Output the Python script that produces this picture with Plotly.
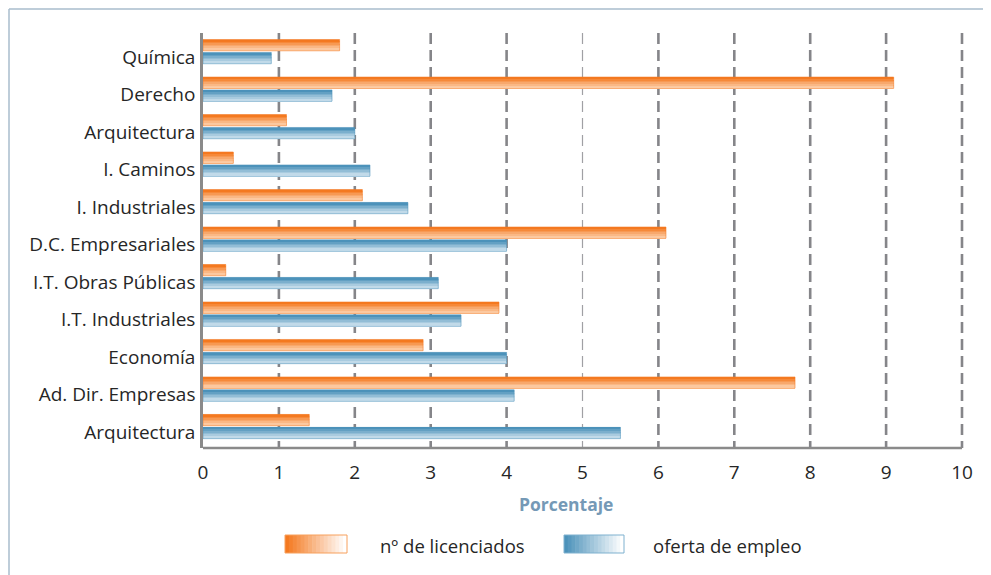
import plotly.graph_objects as go

categories = [
    "Química", "Derecho", "Arquitectura", "I. Caminos", "I. Industriales",
    "D.C. Empresariales", "I.T. Obras Públicas", "I.T. Industriales",
    "Economía", "Ad. Dir. Empresas", "Arquitectura",
]
licenciados = [1.8, 9.1, 1.1, 0.4, 2.1, 6.1, 0.3, 3.9, 2.9, 7.8, 1.4]
oferta = [0.9, 1.7, 2.0, 2.2, 2.7, 4.0, 3.1, 3.4, 4.0, 4.1, 5.5]
x_ticks = [0, 1, 2, 3, 4, 5, 6, 7, 8, 9, 10]

# the page body adds an 8px margin, so the figure is drawn that much smaller
OFF = 8
PAD = 3  # a little room right of the "10" gridline so it is not clipped
W, H = 991 - OFF, 575 - OFF
L, T = 203 - OFF, 33 - OFF
R, B = W - (962 - OFF) - PAD, H - (448 - OFF)
PW, PH = W - L - R, H - T - B
X_MAX = 10 + PAD * 10 / (962 - 203)


def px_x(px):
    # page pixel -> paper x
    return (px - OFF - L) / PW


def px_y(py):
    # page pixel -> paper y
    return (H - B - (py - OFF)) / PH


def mix(c1, c2, t):
    return "rgb({},{},{})".format(*[round(a + (b - a) * t) for a, b in zip(c1, c2)])


ORANGE_DARK, ORANGE_LIGHT = (244, 121, 32), (253, 216, 184)
BLUE_DARK, BLUE_LIGHT = (76, 146, 186), (216, 232, 242)
N_STRIPS = 7
FONT = "Open Sans, Noto Sans, sans-serif"
TEXT = "#262626"

# top category at the top of the chart
y_pos = list(range(len(categories) - 1, -1, -1))

fig = go.Figure()


def add_gradient_bars(values, dark, light, base, thick, edge):
    step = thick / N_STRIPS
    for i in range(N_STRIPS):
        fig.add_trace(go.Bar(
            x=values, y=y_pos, orientation="h",
            offset=base + i * step, width=step * 1.05,
            marker={"color": mix(light, dark, i / (N_STRIPS - 1)), "line": {"width": 0}},
            showlegend=False, hoverinfo="skip",
        ))
    fig.add_trace(go.Bar(
        x=values, y=y_pos, orientation="h", offset=base, width=thick,
        marker={"color": "rgba(0,0,0,0)", "line": {"width": 1, "color": edge}},
        showlegend=False, hoverinfo="skip",
    ))


add_gradient_bars(oferta, BLUE_DARK, BLUE_LIGHT, -0.18, 0.30, "rgba(76,146,186,0.55)")
add_gradient_bars(licenciados, ORANGE_DARK, ORANGE_LIGHT, 0.165, 0.30, "rgba(244,121,32,0.55)")

shapes = []
for v in x_ticks[1:]:
    shapes.append({
        "type": "line", "xref": "x", "yref": "paper", "x0": v, "x1": v, "y0": 1, "y1": 0,
        "layer": "below",
        "line": {"color": "#a0a0a4" if v == 5 else "#858589", "width": 1.2 if v == 5 else 2.6,
                 "dash": "11px,6px"},
    })

# outer frame (top and left edges are the only visible parts)
shapes.append({"type": "line", "xref": "paper", "yref": "paper",
               "x0": px_x(OFF + 1), "x1": px_x(1000), "y0": px_y(OFF + 1), "y1": px_y(OFF + 1),
               "line": {"color": "#a9bdcc", "width": 1.5}})
shapes.append({"type": "line", "xref": "paper", "yref": "paper",
               "x0": px_x(OFF + 1), "x1": px_x(OFF + 1), "y0": px_y(OFF + 1), "y1": px_y(600),
               "line": {"color": "#a9bdcc", "width": 1.5}})

# legend swatches (horizontal gradient)
legend_items = [
    ("nº de licenciados", ORANGE_DARK, "#f7a05c", 285, 347, 378),
    ("oferta de empleo", BLUE_DARK, "#7fb1cf", 564, 624, 651),
]
annotations = []
for label, dark, edge, x0, x1, tx in legend_items:
    n = 16
    sw = (x1 - x0) / n
    for i in range(n):
        shapes.append({"type": "rect", "xref": "paper", "yref": "paper",
                       "x0": px_x(x0 + i * sw), "x1": px_x(x0 + (i + 1) * sw + 0.6),
                       "y0": px_y(535), "y1": px_y(553),
                       "fillcolor": mix(dark, (255, 255, 255), i / (n - 1)),
                       "line": {"width": 0}})
    shapes.append({"type": "rect", "xref": "paper", "yref": "paper",
                   "x0": px_x(x0), "x1": px_x(x1), "y0": px_y(535), "y1": px_y(553),
                   "line": {"color": edge, "width": 1}})
    annotations.append({"text": label, "xref": "paper", "yref": "paper",
                        "x": px_x(tx), "y": px_y(545), "xanchor": "left", "yanchor": "middle",
                        "showarrow": False, "font": {"size": 18.5, "color": TEXT}})

# axis title, sitting left of the plot centre as in the original
annotations.append({"text": "<b>Porcentaje</b>", "xref": "paper", "yref": "paper",
                    "x": px_x(566), "y": px_y(504), "xanchor": "center", "yanchor": "middle",
                    "showarrow": False, "font": {"size": 17.5, "color": "#7599b6"}})

fig.update_layout(
    width=W, height=H,
    margin={"l": L, "r": R, "t": T, "b": B},
    paper_bgcolor="white", plot_bgcolor="white",
    barmode="overlay", showlegend=False,
    font={"family": FONT, "size": 19, "color": TEXT},
    shapes=shapes, annotations=annotations,
    xaxis={
        "range": [0, X_MAX], "tickvals": x_ticks, "showgrid": False, "zeroline": False,
        "showline": False,
        "ticks": "outside", "ticklen": 7, "tickcolor": "rgba(0,0,0,0)",
        "tickfont": {"size": 19, "color": TEXT},
    },
    yaxis={
        "range": [-0.43, 10.64], "tickvals": y_pos, "ticktext": categories,
        "showgrid": False, "zeroline": False,
        "showline": True, "linecolor": "#8a8a8a", "linewidth": 2.5,
        "ticks": "outside", "ticklen": 1, "tickcolor": "rgba(0,0,0,0)",
        "tickfont": {"size": 19, "color": TEXT},
    },
)

# x-axis baseline ends at the "10" gridline
fig.add_shape(type="line", xref="x", yref="paper", x0=0, x1=10, y0=0, y1=0,
              line={"color": "#8a8a8a", "width": 2.5})

fig.write_html("out.html")
